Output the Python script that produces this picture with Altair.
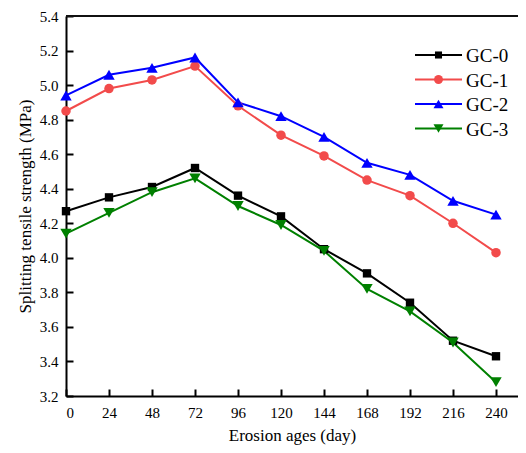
import altair as alt
import pandas as pd

ages = [0, 24, 48, 72, 96, 120, 144, 168, 192, 216, 240]
gc0 = [4.27, 4.35, 4.41, 4.52, 4.36, 4.24, 4.05, 3.91, 3.74, 3.52, 3.43]
gc1 = [4.85, 4.98, 5.03, 5.11, 4.88, 4.71, 4.59, 4.45, 4.36, 4.20, 4.03]
gc2 = [4.94, 5.06, 5.10, 5.16, 4.90, 4.82, 4.70, 4.55, 4.48, 4.33, 4.25]
gc3 = [4.14, 4.26, 4.38, 4.46, 4.30, 4.19, 4.04, 3.82, 3.69, 3.51, 3.28]
series_names = ["GC-0", "GC-1", "GC-2", "GC-3"]
x_ticks = [0, 24, 48, 72, 96, 120, 144, 168, 192, 216, 240]
y_ticks = [3.2, 3.4, 3.6, 3.8, 4.0, 4.2, 4.4, 4.6, 4.8, 5.0, 5.2, 5.4]

colors = ["#000000", "#f24b4b", "#0000ff", "#008000"]
shapes = ["square", "circle", "triangle-up", "triangle-down"]
sizes = [70, 90, 130, 130]
legend_sizes = [50, 80, 100, 100]

W, H = 452, 380
FONT = "Liberation Serif"

rows = []
for name, vals in zip(series_names, [gc0, gc1, gc2, gc3]):
    for a, v in zip(ages, vals):
        rows.append({"age": a, "value": v, "series": name})
df = pd.DataFrame(rows)

xscale = alt.Scale(domain=[0, W * 240 / 430], nice=False, zero=False)
yscale = alt.Scale(domain=[3.2, 5.4], nice=False, zero=False)

txt = dict(labelFont=FONT, labelFontSize=15, labelColor="#000000",
           titleFont=FONT, titleFontSize=17, titleFontWeight="normal", titleColor="#000000",
           domainColor="#000000", domainWidth=2, grid=False)

main_x_axis = alt.Axis(values=x_ticks, title="Erosion ages (day)", format="d", orient="bottom",
                       ticks=False, labelOverlap=False, labelPadding=9, titlePadding=7, **txt)
main_y_axis = alt.Axis(values=y_ticks, title="Splitting tensile strength (MPa)", format=".1f",
                       orient="left", ticks=False, labelOverlap=False, labelPadding=8, titlePadding=5, **txt)
tick_x_axis = alt.Axis(values=x_ticks, orient="bottom", offset=-7, ticks=True, tickSize=7,
                       tickWidth=2, tickColor="#000000", labels=False, domain=False, title=None, grid=False)
tick_y_axis = alt.Axis(values=y_ticks, orient="left", offset=-7, ticks=True, tickSize=7,
                       tickWidth=2, tickColor="#000000", labels=False, domain=False, title=None, grid=False)

color_scale = alt.Scale(domain=series_names, range=colors)

lines = alt.Chart(df).mark_line(strokeWidth=2).encode(
    x=alt.X("age:Q", scale=xscale, axis=main_x_axis),
    y=alt.Y("value:Q", scale=yscale, axis=main_y_axis),
    color=alt.Color("series:N", scale=color_scale, legend=None),
)

tick_layer = alt.Chart(df).mark_point(opacity=0).encode(
    x=alt.X("age:Q", scale=xscale, axis=tick_x_axis),
    y=alt.Y("value:Q", scale=yscale, axis=tick_y_axis),
)

point_layers = []
for name, c, s, sz in zip(series_names, colors, shapes, sizes):
    point_layers.append(
        alt.Chart(df).transform_filter(alt.datum.series == name)
        .mark_point(filled=True, shape=s, size=sz, color=c, opacity=1)
        .encode(x=alt.X("age:Q", axis=None), y=alt.Y("value:Q", axis=None))
    )

one = pd.DataFrame({"k": [0]})
legend_layers = []
for i, (name, c, s, sz) in enumerate(zip(series_names, colors, shapes, legend_sizes)):
    yc = 39 + i * 24.5
    legend_layers.append(alt.Chart(one).mark_rule(color=c, strokeWidth=2).encode(
        x=alt.value(349), x2=alt.value(396), y=alt.value(yc)))
    legend_layers.append(alt.Chart(one).mark_point(filled=True, shape=s, size=sz, color=c, opacity=1).encode(
        x=alt.value(372.5), y=alt.value(yc)))
    legend_layers.append(alt.Chart(one).mark_text(
        align="left", baseline="middle", font=FONT, fontSize=19, color="#000000", text=name).encode(
        x=alt.value(400), y=alt.value(yc + 1)))

# top frame: a thin filled band along the top edge of the plot
top = alt.Chart(one).mark_rect(fill="#111111", stroke=None, opacity=1).encode(
    x=alt.value(0), x2=alt.value(W), y=alt.value(-1), y2=alt.value(1))

chart = alt.layer(lines, tick_layer, *point_layers, *legend_layers, top).resolve_axis(
    x="independent", y="independent"
).properties(
    width=W, height=H,
    autosize=alt.AutoSizeParams(type="none"),
    padding={"left": 58, "top": 8, "right": 0, "bottom": 49},
).configure_view(stroke=None)

chart.save("out.html", embed_options={"renderer": "svg", "actions": False})
